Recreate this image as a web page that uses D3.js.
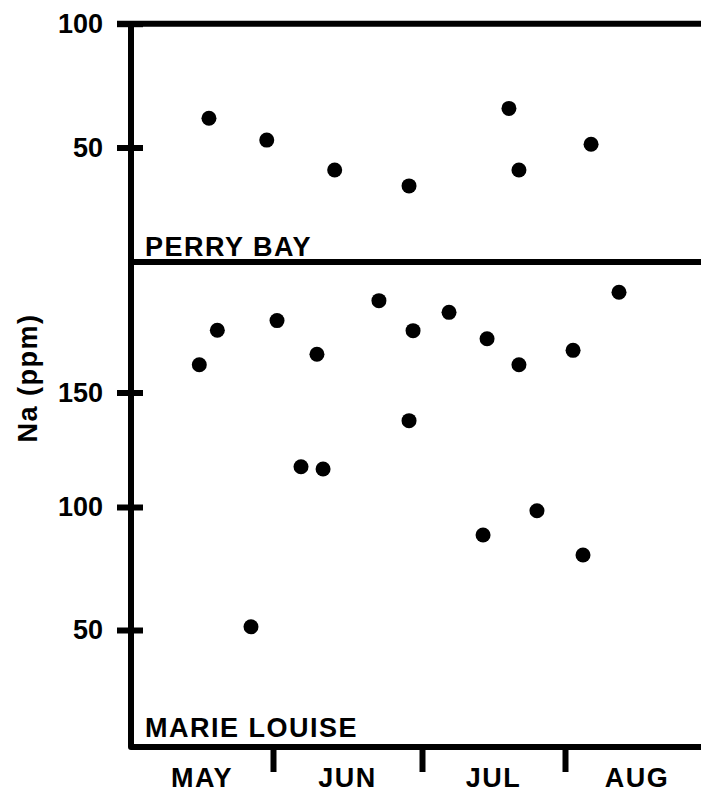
<!DOCTYPE html>
<html>
<head>
<meta charset="utf-8">
<script src="https://cdn.jsdelivr.net/npm/d3@7"></script>
<style>
  html, body { margin: 0; padding: 0; background: #fff; overflow: hidden; }
  svg { display: block; }
  text { font-family: "Liberation Sans", Arial, sans-serif; font-weight: bold; fill: #000; }
</style>
</head>
<body>
<svg id="chart" width="701" height="794"></svg>
<script>
// ---- Data (x in month units: 0 = start of May, 1 = start of June, ...) ----
const months = ["MAY", "JUN", "JUL", "AUG"];
const monthBoundaries = [1, 2, 3];

const perryBayMonth = [0.549, 0.956, 1.414, 1.913, 2.608, 2.678, 3.181];
const perryBayNa    = [61.8, 53.0, 40.9, 34.5, 65.8, 40.9, 51.3];

const marieLouiseMonth = [0.481, 0.608, 0.845, 1.027, 1.188, 1.295, 1.336, 1.711, 1.913,
                          1.940, 2.189, 2.427, 2.455, 2.678, 2.804, 3.056, 3.125, 3.375];
const marieLouiseNa    = [162.1, 177.2, 51.3, 181.4, 117.6, 166.7, 116.6, 190.1, 137.7,
                          177.0, 185.0, 88.6, 173.5, 162.1, 98.5, 168.4, 80.5, 193.8];

const perryBayTicks = [50, 100];
const marieLouiseTicks = [50, 100, 150];

const panelLabels = ["PERRY BAY", "MARIE LOUISE"];
const yTitle = "Na (ppm)";

// ---- Layout ----
const svg = d3.select("#chart");
const axisX = 131;
const topY = 23.7, dividerY = 262, bottomY = 747, rightX = 712;
const sw = 6;
const FONT = 27;

// ---- Scales ----
const x = d3.scaleLinear().domain([0, 1, 2, 3, 4]).range([131, 273, 422, 565, 709]);
const yTop = d3.scaleLinear().domain([50, 100]).range([147.5, 23.7]);
const yBot = d3.scaleLinear().domain([50, 100, 150]).range([630, 507, 392.5]);

// ---- Frame ----
svg.append("path")
  .attr("d", `M117,${topY}H${rightX}M${axisX},${topY}V${bottomY}H${rightX}`)
  .attr("fill", "none").attr("stroke", "#000").attr("stroke-width", sw)
  .attr("stroke-linejoin", "round");
svg.append("line")
  .attr("x1", axisX).attr("x2", rightX).attr("y1", dividerY).attr("y2", dividerY)
  .attr("stroke", "#000").attr("stroke-width", sw);

// ---- Y axes ----
function styleYAxis(g) {
  g.select(".domain").remove();
  g.selectAll(".tick line").attr("stroke", "#000").attr("stroke-width", sw).attr("x1", 12);
  g.selectAll(".tick text")
    .attr("font-family", "'Liberation Sans', Arial, sans-serif")
    .attr("font-weight", "bold").attr("font-size", FONT).attr("fill", "#000");
  g.attr("font-size", null).attr("font-family", null);
}
svg.append("g").attr("transform", `translate(${axisX},0)`)
  .call(d3.axisLeft(yTop).tickValues(perryBayTicks).tickSize(14).tickPadding(14).tickFormat(d3.format("d")))
  .call(styleYAxis);
svg.append("g").attr("transform", `translate(${axisX},0)`)
  .call(d3.axisLeft(yBot).tickValues(marieLouiseTicks).tickSize(14).tickPadding(14).tickFormat(d3.format("d")))
  .call(styleYAxis);

// ---- X axis ----
const xg = svg.append("g").attr("transform", `translate(0,${bottomY})`)
  .call(d3.axisBottom(x).tickValues(monthBoundaries).tickSize(25).tickFormat(""));
xg.select(".domain").remove();
xg.selectAll(".tick line").attr("stroke", "#000").attr("stroke-width", sw).attr("y1", 2);

svg.append("g").selectAll("text").data(months).join("text")
  .attr("x", (d, i) => x(i + 0.5))
  .attr("y", 787)
  .attr("text-anchor", "middle")
  .attr("font-size", FONT)
  .attr("letter-spacing", "1.5px")
  .text(d => d);

// ---- Panel labels ----
svg.append("text").attr("x", 145).attr("y", 256).attr("font-size", FONT)
  .attr("letter-spacing", "1.5px").text(panelLabels[0]);
svg.append("text").attr("x", 145).attr("y", 737).attr("font-size", FONT)
  .attr("letter-spacing", "1.5px").text(panelLabels[1]);

// ---- Y title ----
svg.append("text")
  .attr("transform", "translate(37,378) rotate(-90)")
  .attr("text-anchor", "middle")
  .attr("font-size", FONT)
  .attr("letter-spacing", "1.5px")
  .text(yTitle);

// ---- Points ----
const R = 7.5;
svg.append("g").selectAll("circle").data(perryBayMonth.map((m, i) => [m, perryBayNa[i]]))
  .join("circle")
  .attr("cx", d => x(d[0])).attr("cy", d => yTop(d[1])).attr("r", R).attr("fill", "#000");
svg.append("g").selectAll("circle").data(marieLouiseMonth.map((m, i) => [m, marieLouiseNa[i]]))
  .join("circle")
  .attr("cx", d => x(d[0])).attr("cy", d => yBot(d[1])).attr("r", R).attr("fill", "#000");
</script>
</body>
</html>
